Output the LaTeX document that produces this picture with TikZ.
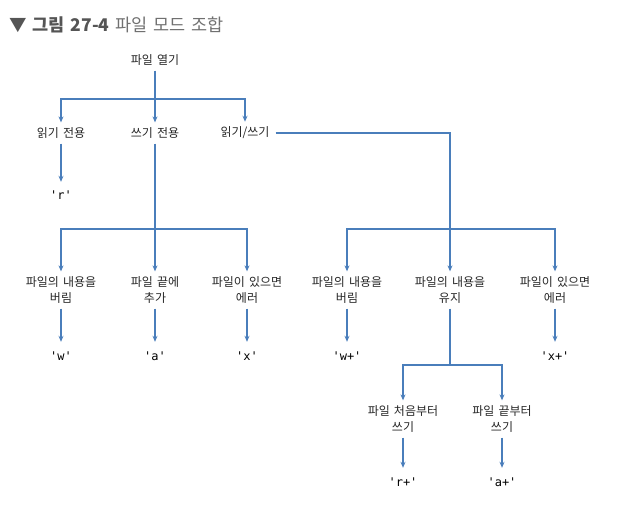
\documentclass[tikz,border=0pt]{standalone}
\usepackage{fontspec}
\newfontfamily\kr[WordSpace=1.5]{Noto Sans CJK KR}
\newfontfamily\mono{DejaVu Sans Mono}
\usetikzlibrary{arrows.meta}
\definecolor{linkblue}{HTML}{4A7EBB}
\definecolor{titlegray}{HTML}{555555}
\definecolor{subgray}{HTML}{707070}
\tikzset{
  lbl/.style={font=\kr\fontsize{12}{16}\selectfont, text=black!85, align=center,
    inner xsep=6pt, inner ysep=5pt},
  mode/.style={font=\mono\fontsize{12}{13}\selectfont, text height=8pt, text depth=2pt,
    inner xsep=2pt, inner ysep=10pt},
  link/.style={draw=linkblue, line width=1.6pt},
  arr/.style={-{Stealth[length=6pt,width=5pt]}},
}
\begin{document}
\begin{tikzpicture}[x=1pt,y=-1pt]
  \useasboundingbox (0,0) rectangle (623,529);
  \node[anchor=west, inner sep=0pt, font=\kr\fontsize{17.5}{20}\selectfont] (title) at (9,25)
    {\textcolor{titlegray}{\bfseries ▼ 그림 27-4} \textcolor{subgray}{파일 모드 조합}};

  \draw
    (155,60) node[lbl] (open){파일 열기}
    (61,133) node[lbl] (ro){읽기 전용}
    (155,133) node[lbl] (wo){쓰기 전용}
    (245,133) node[lbl] (rw){읽기/쓰기}
    (61,197) node[mode] (r){'r'}
    (61,290) node[lbl] (trunc){파일의 내용을\\버림}
    (155,290) node[lbl] (append){파일 끝에\\추가}
    (247,290) node[lbl] (excl){파일이 있으면\\에러}
    (347,290) node[lbl] (trunc+){파일의 내용을\\버림}
    (450,290) node[lbl] (keep){파일의 내용을\\유지}
    (555,290) node[lbl] (excl+){파일이 있으면\\에러}
    (61,357) node[mode] (w){'w'}
    (155,357) node[mode] (a){'a'}
    (247,357) node[mode] (x){'x'}
    (347,357) node[mode] (w+){'w+'}
    (555,357) node[mode] (x+){'x+'}
    (403,419) node[lbl] (start){파일 처음부터\\쓰기}
    (502,419) node[lbl] (end){파일 끝부터\\쓰기}
    (403,483) node[mode] (r+){'r+'}
    (502,483) node[mode] (a+){'a+'};

  \coordinate (j0) at (155,99);
  \coordinate (j1) at (155,229);
  \coordinate (j2) at (450,229);
  \coordinate (j3) at (450,365);

  \begin{scope}[link]
    \draw (open) -- (j0);
    \draw[arr] (j0) -| (ro);
    \draw[arr] (j0) -- (wo);
    \draw[arr] (j0) -| (rw);
    \draw[arr] (ro) -- (r);
    \draw (wo) -- (j1);
    \draw[arr] (j1) -| (trunc);
    \draw[arr] (j1) -- (append);
    \draw[arr] (j1) -| (excl);
    \draw (rw) -| (j2);
    \draw[arr] (j2) -| (trunc+);
    \draw[arr] (j2) -- (keep);
    \draw[arr] (j2) -| (excl+);
    \draw[arr] (trunc) -- (w);
    \draw[arr] (append) -- (a);
    \draw[arr] (excl) -- (x);
    \draw[arr] (trunc+) -- (w+);
    \draw[arr] (excl+) -- (x+);
    \draw (keep) -- (j3);
    \draw[arr] (j3) -| (start);
    \draw[arr] (j3) -| (end);
    \draw[arr] (start) -- (r+);
    \draw[arr] (end) -- (a+);
  \end{scope}
\end{tikzpicture}
\end{document}
